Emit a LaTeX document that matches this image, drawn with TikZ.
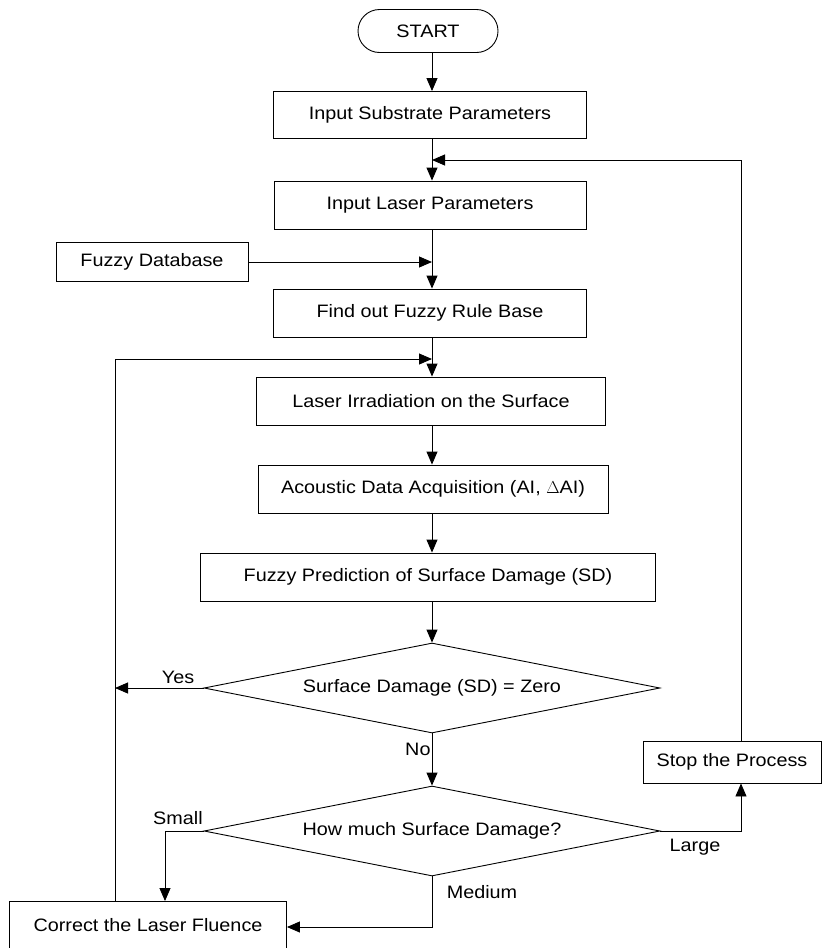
\documentclass[tikz,border=0pt]{standalone}
\usepackage{fontspec}
\setmainfont[FakeStretch=1.1]{Liberation Sans}
\usetikzlibrary{arrows.meta,shapes.geometric,shapes.misc}
\begin{document}
\begin{tikzpicture}[x=1pt,y=-1pt,
  font=\fontsize{18}{21}\selectfont,
  line width=0.9pt,
  box/.style={draw,rectangle,inner sep=0pt,minimum height=48pt},
  term/.style={draw,rounded rectangle,inner sep=0pt,minimum width=140pt,minimum height=43pt},
  decide/.style={draw,diamond,aspect=5,inner sep=0pt,minimum width=456pt,minimum height=90pt},
  flow/.style={-{Triangle[length=13pt,width=11pt]}},
  lbl/.style={inner sep=1pt}]
\useasboundingbox (0,0) rectangle (822,948);

% main column
\node[term] (start) at (428,31) {START};
\node[box,minimum width=313pt,minimum height=47pt] (sub) at (430,115) {Input Substrate Parameters};
\node[box,minimum width=312pt] (laser) at (430,205) {Input Laser Parameters};
\node[box,minimum width=192pt,minimum height=39pt] (fdb) at (152,262) {Fuzzy Database};
\node[box,minimum width=313pt] (rule) at (430,313) {Find out Fuzzy Rule Base};
\node[box,minimum width=349pt] (irr) at (431,401) {Laser Irradiation on the Surface};
\node[box,minimum width=350pt] (acq) at (433,489) {Acoustic Data Acquisition (AI, $\Delta$AI)};
\node[box,minimum width=455pt] (pred) at (428,577) {Fuzzy Prediction of Surface Damage (SD)};
\node[decide] (zero) at (432,688) {Surface Damage (SD) = Zero};
\node[decide] (much) at (432,831) {How much Surface Damage?};
\node[box,minimum width=178pt,minimum height=42pt] (stop) at (732,762) {Stop the Process};
\node[box,minimum width=277pt,minimum height=47pt] (fix) at (148,925) {Correct the Laser Fluence};

% junction points on the main column
\coordinate (j1) at (432,160);
\coordinate (j2) at (432,262);
\coordinate (j3) at (432,359);

% straight flow
\draw[flow] (start.south -| 432,0) -- (sub.north -| 432,0);
\draw[flow] (sub.south -| 432,0) -- (laser.north -| 432,0);
\draw[flow] (laser.south -| 432,0) -- (rule.north -| 432,0);
\draw[flow] (fdb.east) -- (j2);
\draw[flow] (rule.south -| 432,0) -- (irr.north -| 432,0);
\draw[flow] (irr.south -| 432,0) -- (acq.north -| 432,0);
\draw[flow] (acq.south -| 432,0) -- (pred.north -| 432,0);
\draw[flow] (pred.south -| 432,0) -- (zero.north);
\draw[flow] (zero.south) -- node[lbl,left,pos=0.3] {No} (much.north);

% decisions
\draw[flow] (zero.west) -- (115,688);
\node[lbl] (yes) at (178,677) {Yes};
\draw[flow] (much.west) -- (165,831) -- (fix.north -| 165,0);
\node[lbl] (small) at (178,818) {Small};
\draw[flow] (much.east) -- (741,831) -- (stop.south -| 741,0);
\node[lbl] (large) at (695,847) {Large};
\draw[flow] (much.south) -- (432,927) -- (fix.east |- 0,927);
\node[lbl] (medium) at (482,892) {Medium};

% feedback loops
\draw[flow] (stop.north -| 741,0) -- (741,160) -- (j1);
\draw[flow] (fix.north -| 115,0) -- (115,359) -- (j3);
\end{tikzpicture}
\end{document}
